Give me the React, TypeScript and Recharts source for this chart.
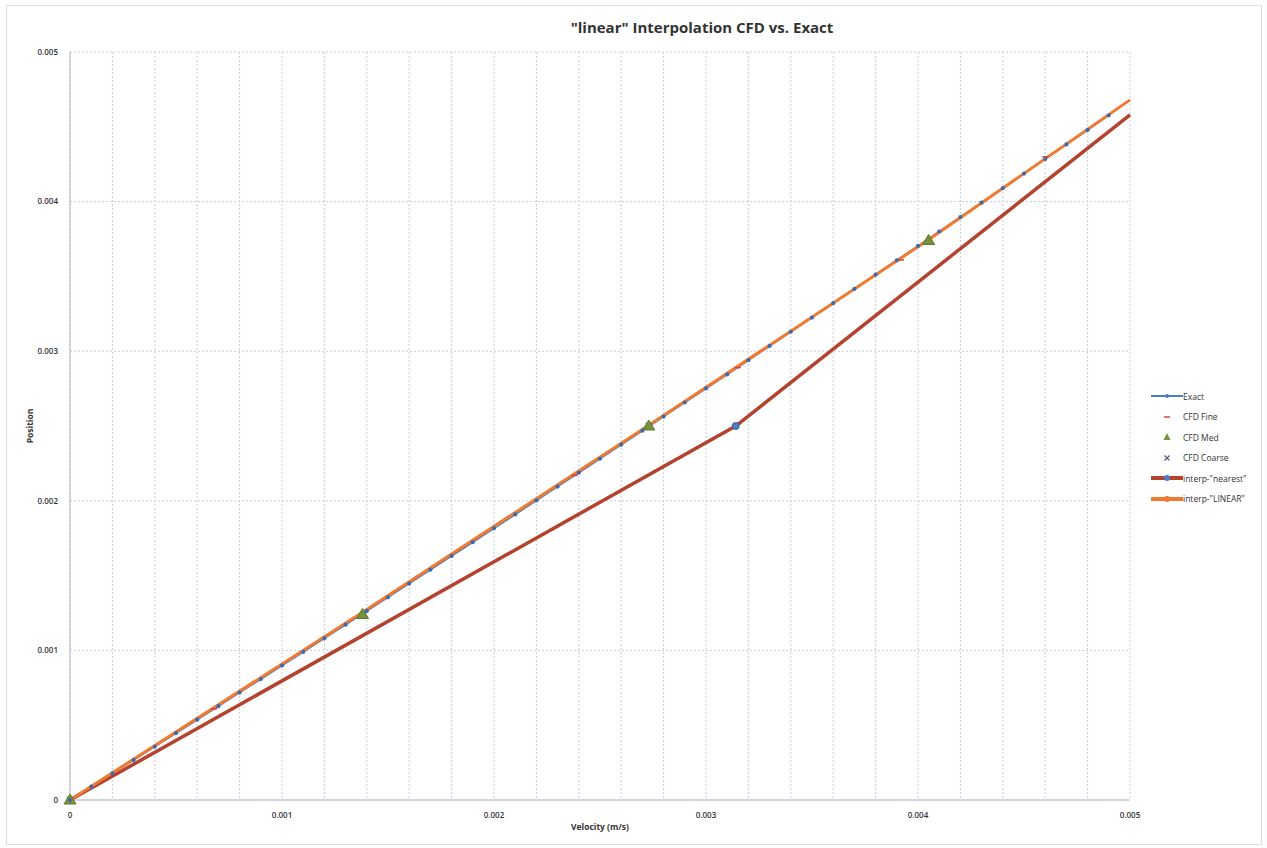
import React from 'react';
import { ComposedChart, Line, Scatter, XAxis, YAxis, CartesianGrid, Legend } from 'recharts';

const X_TICKS = [0, 0.0002, 0.0004, 0.0006, 0.0008, 0.001, 0.0012, 0.0014, 0.0016, 0.0018, 0.002, 0.0022, 0.0024, 0.0026, 0.0028, 0.003, 0.0032, 0.0034, 0.0036, 0.0038, 0.004, 0.0042, 0.0044, 0.0046, 0.0048, 0.005];
const X_LABELS = [0, 0.001, 0.002, 0.003, 0.004, 0.005];
const Y_TICKS = [0, 0.001, 0.002, 0.003, 0.004, 0.005];

const EXACT_X = [0, 0.0001, 0.0002, 0.0003, 0.0004, 0.0005, 0.0006, 0.0007, 0.0008, 0.0009, 0.001, 0.0011, 0.0012, 0.0013, 0.0014, 0.0015, 0.0016, 0.0017, 0.0018, 0.0019, 0.002, 0.0021, 0.0022, 0.0023, 0.0024, 0.0025, 0.0026, 0.0027, 0.0028, 0.0029, 0.003, 0.0031, 0.0032, 0.0033, 0.0034, 0.0035, 0.0036, 0.0037, 0.0038, 0.0039, 0.004, 0.0041, 0.0042, 0.0043, 0.0044, 0.0045, 0.0046, 0.0047, 0.0048, 0.0049];
const EXACT_Y = [0, 0.0000891, 0.000178, 0.000268, 0.000357, 0.000447, 0.000537, 0.000627, 0.000718, 0.000808, 0.000899, 0.00099, 0.001081, 0.001172, 0.001264, 0.001355, 0.001447, 0.001539, 0.001631, 0.001723, 0.001816, 0.001909, 0.002002, 0.002095, 0.002188, 0.002281, 0.002375, 0.002469, 0.002563, 0.002657, 0.002751, 0.002845, 0.00294, 0.003035, 0.00313, 0.003225, 0.003321, 0.003416, 0.003512, 0.003608, 0.003704, 0.0038, 0.003897, 0.003993, 0.00409, 0.004187, 0.004284, 0.004382, 0.004479, 0.004577];

const FINE_X = [0, 0.00068, 0.00238, 0.00315, 0.00392, 0.0046];
const FINE_Y = [0, 0.00061, 0.00217, 0.00289, 0.00361, 0.0043];

const MED_X = [0, 0.00138, 0.00273, 0.00405];
const MED_Y = [0, 0.00124, 0.0025, 0.00374];

const COARSE_X = [0, 0.00273];
const COARSE_Y = [0, 0.0025];

const NEAREST_X = [0, 0.00314, 0.005];
const NEAREST_Y = [0, 0.0025, 0.00458];

const LINEAR_X = [0, 0.00138, 0.00273, 0.00405, 0.005];
const LINEAR_Y = [0, 0.001255, 0.002505, 0.003745, 0.00468];

const toPts = (xs: number[], ys: number[]) => xs.map((x, i) => ({ x, y: ys[i] }));
const exact = toPts(EXACT_X, EXACT_Y);
const fine = toPts(FINE_X, FINE_Y);
const med = toPts(MED_X, MED_Y);
const coarse = toPts(COARSE_X, COARSE_Y);
const nearest = toPts(NEAREST_X, NEAREST_Y);
const linear = toPts(LINEAR_X, LINEAR_Y);

const C_EXACT = '#4a7ec6';
const C_FINE = '#d9403a';
const C_MED = '#76923c';
const C_COARSE = '#5b5b7a';
const C_NEAREST = '#b3432f';
const C_LINEAR = '#f07a30';

const FONT = '"Open Sans", "Liberation Sans", sans-serif';

const fmt = (v: number) => (X_LABELS.some((m) => Math.abs(m - v) < 1e-9) ? String(v) : '');

const DashShape = (p: any) => (
  <line x1={p.cx - 3} x2={p.cx + 3} y1={p.cy} y2={p.cy} stroke={C_FINE} strokeWidth={1.5} />
);
const TriShape = (p: any) => (
  <polygon points={`${p.cx},${p.cy - 6} ${p.cx - 6},${p.cy + 4} ${p.cx + 6},${p.cy + 4}`} fill={C_MED} stroke="#5e7a2c" strokeWidth={1} />
);
const XShape = (p: any) => (
  <g stroke={C_COARSE} strokeWidth={1.3}>
    <line x1={p.cx - 3} y1={p.cy - 3} x2={p.cx + 3} y2={p.cy + 3} />
    <line x1={p.cx - 3} y1={p.cy + 3} x2={p.cx + 3} y2={p.cy - 3} />
  </g>
);
const NearestDot = (p: any) =>
  p.index === 1 ? (
    <circle key={`nd${p.index}`} cx={p.cx} cy={p.cy} r={3.5} fill={C_EXACT} stroke="#3a5f9a" strokeWidth={1} />
  ) : (
    <g key={`nd${p.index}`} />
  );

const LegendContent = () => {
  const row = (sym: React.ReactNode, text: string) => (
    <div style={{ display: 'flex', alignItems: 'center', height: 20.5 }}>
      <svg width={36} height={12} style={{ flex: 'none' }}>{sym}</svg>
      <span style={{ fontFamily: FONT, fontSize: 8.5, color: '#333', whiteSpace: 'nowrap' }}>{text}</span>
    </div>
  );
  return (
    <div>
      {row(<g><line x1={4} x2={36} y1={6} y2={6} stroke={C_EXACT} strokeWidth={2} /><circle cx={20} cy={6} r={2} fill={C_EXACT} /></g>, 'Exact')}
      {row(<line x1={17} x2={23} y1={6} y2={6} stroke={C_FINE} strokeWidth={1.5} />, 'CFD Fine')}
      {row(<polygon points="20,2 16.5,9 23.5,9" fill={C_MED} />, 'CFD Med')}
      {row(<g stroke={C_COARSE} strokeWidth={1.2}><line x1={17.5} y1={3.5} x2={22.5} y2={8.5} /><line x1={17.5} y1={8.5} x2={22.5} y2={3.5} /></g>, 'CFD Coarse')}
      {row(<g><line x1={4} x2={36} y1={6} y2={6} stroke={C_NEAREST} strokeWidth={4} /><circle cx={20} cy={6} r={3} fill={C_EXACT} /></g>, 'interp-"nearest"')}
      {row(<g><line x1={4} x2={36} y1={6} y2={6} stroke={C_LINEAR} strokeWidth={4} /><circle cx={20} cy={6} r={3} fill={C_LINEAR} /></g>, 'interp-"LINEAR"')}
    </div>
  );
};

export default function App() {
  return (
    <div style={{ position: 'absolute', left: 0, top: 0, width: 1267, height: 848, background: '#fff' }}>
      <div style={{ position: 'absolute', left: 6, top: 5, width: 1254, height: 838, border: '1px solid #dcdce8' }} />
      <div style={{ position: 'absolute', left: 0, width: 1404, top: 17, textAlign: 'center', fontFamily: FONT, fontWeight: 700, fontSize: 15, color: '#333' }}>
        "linear" Interpolation CFD vs. Exact
      </div>
      <div style={{ position: 'absolute', left: 0, top: 0 }}>
        <ComposedChart width={1267} height={848} margin={{ top: 52, right: 137, bottom: 18, left: 30 }}>
          <CartesianGrid stroke="#c9c9de" strokeDasharray="2 2" />
          <XAxis
            dataKey="x"
            type="number"
            domain={[0, 0.005]}
            ticks={X_TICKS}
            interval={0}
            tickFormatter={fmt}
            tickLine={false}
            axisLine={{ stroke: '#b4b4cc' }}
            height={30}
            tick={{ fontFamily: FONT, fontSize: 8, fontWeight: 600, fill: '#333' }}
            tickMargin={6}
            allowDuplicatedCategory={false}
            label={{ value: 'Velocity (m/s)', position: 'bottom', offset: -6, style: { fontFamily: FONT, fontSize: 8.5, fontWeight: 700, fill: '#333' } }}
          />
          <YAxis
            dataKey="y"
            type="number"
            domain={[0, 0.005]}
            ticks={Y_TICKS}
            interval={0}
            tickLine={false}
            axisLine={{ stroke: '#b4b4cc' }}
            width={40}
            tick={{ fontFamily: FONT, fontSize: 8, fontWeight: 600, fill: '#333' }}
            tickMargin={6}
            label={{ value: 'Position', angle: -90, position: 'left', offset: 0, style: { fontFamily: FONT, fontSize: 8.5, fontWeight: 700, fill: '#333', textAnchor: 'middle' } }}
          />
          <Legend layout="vertical" align="center" verticalAlign="middle" content={LegendContent} wrapperStyle={{ position: 'absolute', left: 1147, top: 386, width: 110 }} />
          <Line data={nearest} dataKey="y" name='interp-"nearest"' type="linear" stroke={C_NEAREST} strokeWidth={3.5} dot={NearestDot} isAnimationActive={false} />
          <Line data={exact} dataKey="y" name="Exact" type="linear" stroke={C_EXACT} strokeWidth={1.8} dot={{ r: 1.2, fill: '#3d6bb0', stroke: '#3d6bb0' }} isAnimationActive={false} />
          <Line data={linear} dataKey="y" name='interp-"LINEAR"' type="linear" stroke={C_LINEAR} strokeWidth={3} dot={false} isAnimationActive={false} />
          <Scatter data={fine} dataKey="y" name="CFD Fine" shape={DashShape} isAnimationActive={false} />
          <Scatter data={coarse} dataKey="y" name="CFD Coarse" shape={XShape} isAnimationActive={false} />
          <Scatter data={med} dataKey="y" name="CFD Med" shape={TriShape} isAnimationActive={false} />
        </ComposedChart>
      </div>
    </div>
  );
}
